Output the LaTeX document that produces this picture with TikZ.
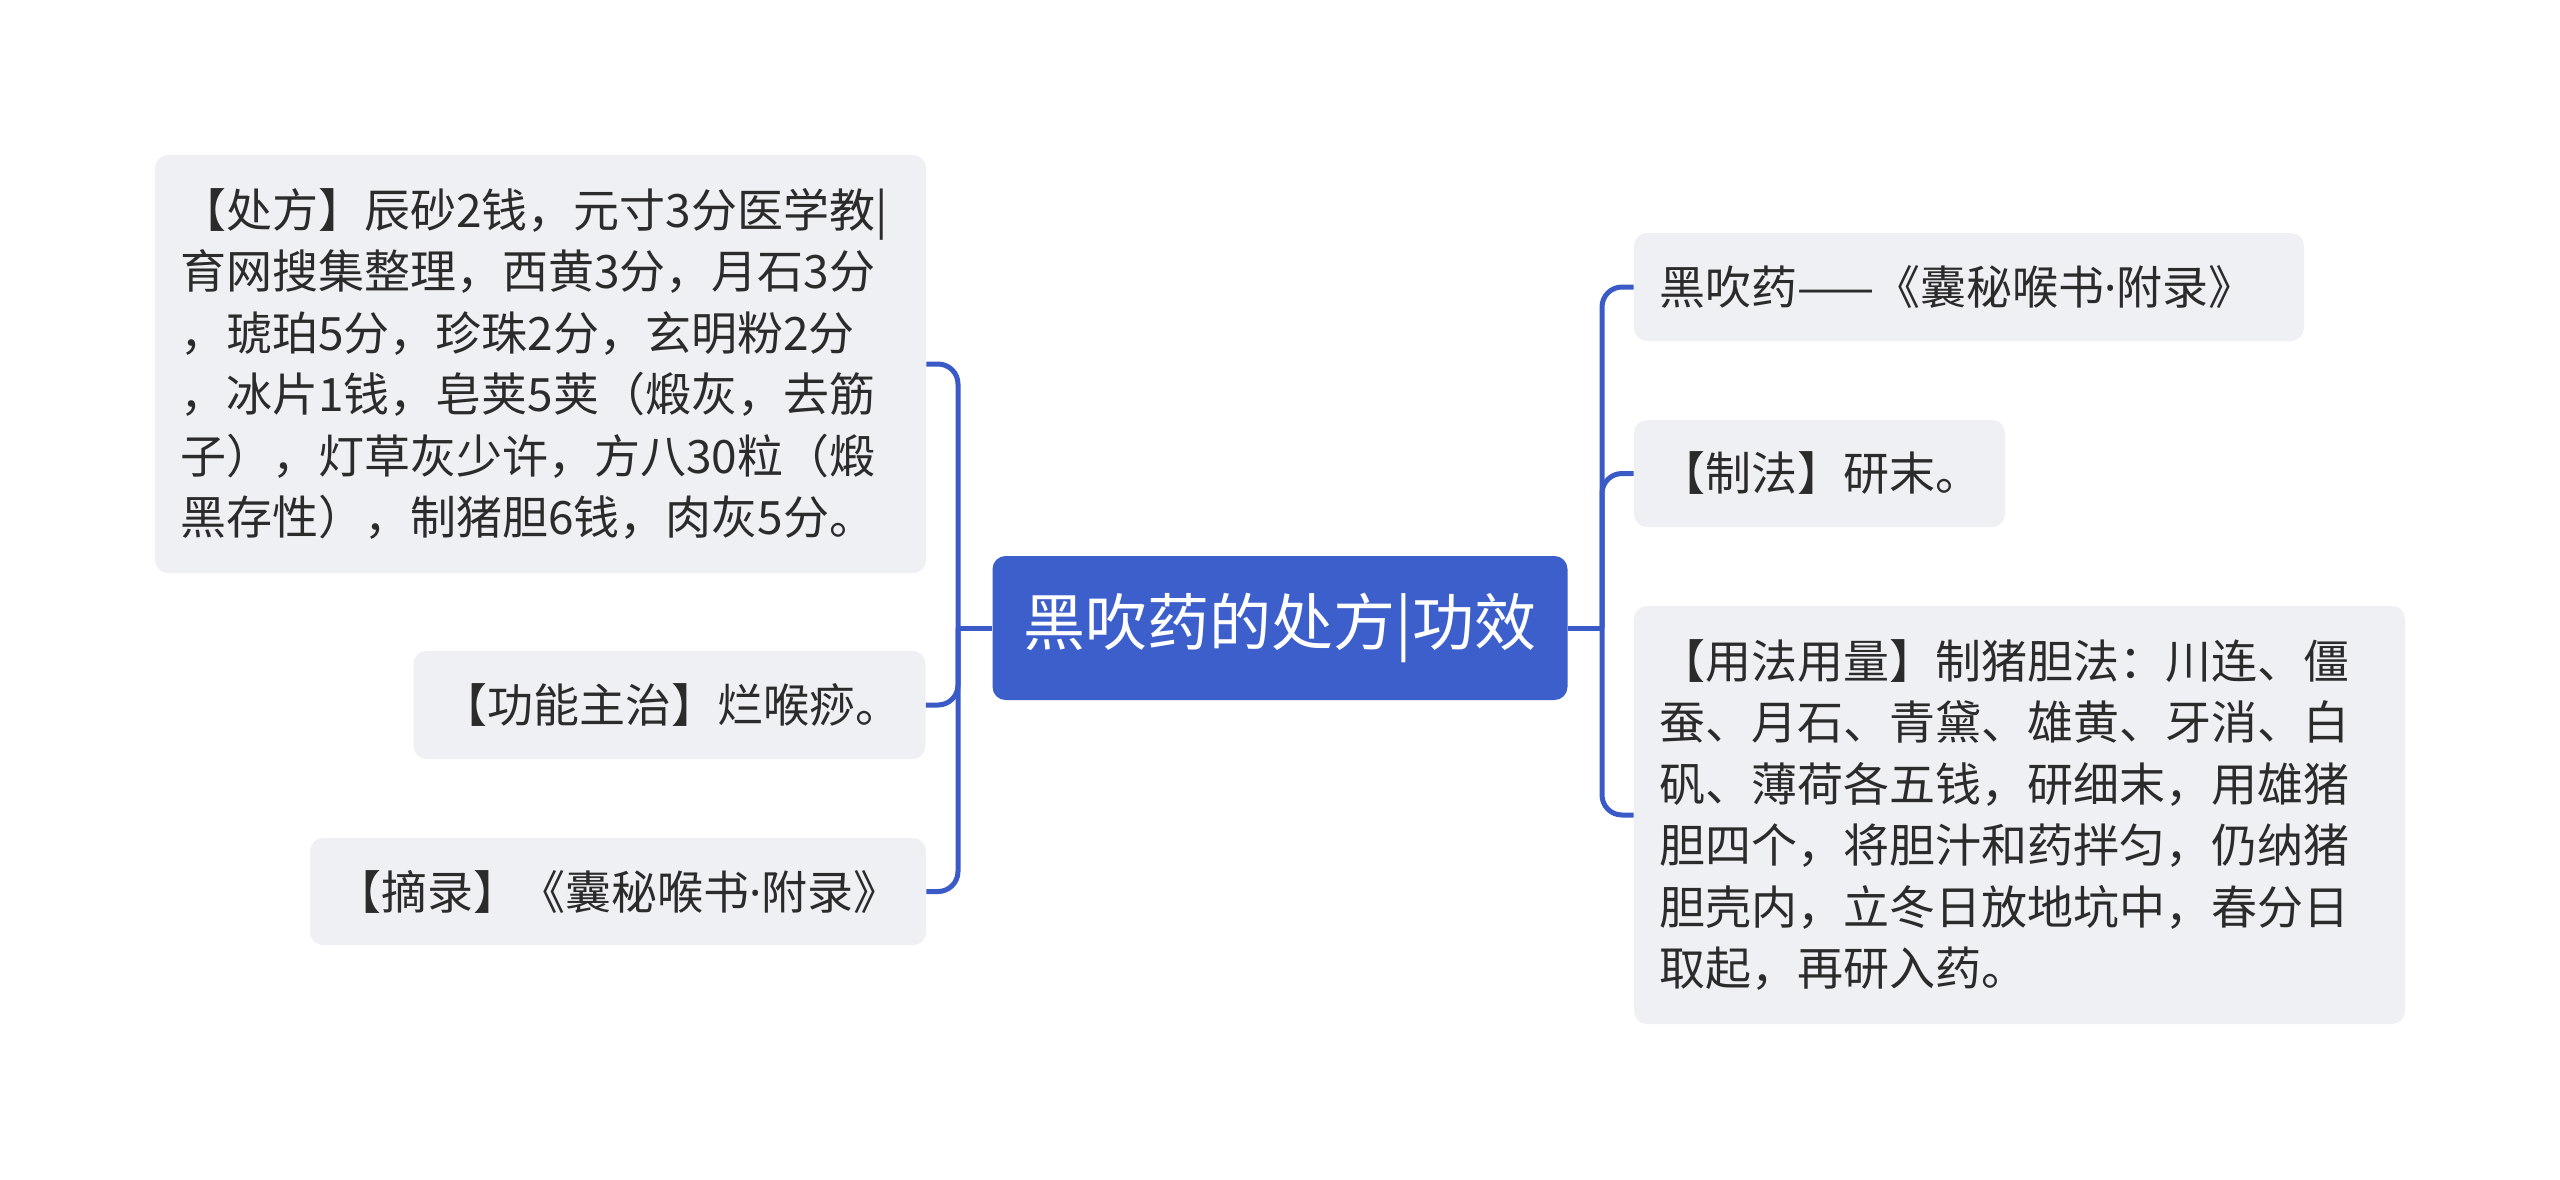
\documentclass[tikz,border=0pt]{standalone}
\usepackage{fontspec}
\newfontfamily\cjk{Noto Sans CJK SC}
\newfontfamily\latin{Noto Sans}
\newcommand{\mdot}{{\latin ·}}
\definecolor{boxfill}{HTML}{EEF0F3}
\definecolor{rootfill}{HTML}{3D5FCB}
\definecolor{conncol}{HTML}{3A5BC7}
\definecolor{txt}{HTML}{2B2B2B}
\tikzset{
  leaf/.style={draw=none, fill=boxfill, rounded corners=6.5pt, text=txt,
    font=\cjk\fontsize{23}{30.75}\selectfont, align=left,
    inner xsep=12.5pt, inner ysep=0pt, anchor=center},
  rootbox/.style={draw=none, fill=rootfill, rounded corners=6.5pt, text=white,
    font=\cjk\fontsize{31}{38}\selectfont, align=center,
    minimum width=287.5pt, minimum height=72pt, inner sep=0pt},
  conn/.style={draw=conncol, line width=2.5pt, rounded corners=10pt},
}
\begin{document}
\begin{tikzpicture}[x=0.5pt, y=-0.5pt]
\useasboundingbox (0,0) rectangle (2560,1179);
\fill[white] (0,0) rectangle (2560,1179);

\node[rootbox] (root) at (1280,628) {黑吹药的处方|功效};

% left side
\node[leaf, text width=360.5pt, minimum height=209pt] (chufang) at (540.5,364)
 {【处方】辰砂2钱，元寸3分医学教|\\
  育网搜集整理，西黄3分，月石3分\\
  ，琥珀5分，珍珠2分，玄明粉2分\\
  ，冰片1钱，皂荚5荚（煅灰，去筋\\
  子），灯草灰少许，方八30粒（煅\\
  黑存性），制猪胆6钱，肉灰5分。};
\node[leaf, text width=228pt, inner xsep=14pt, minimum height=54pt] (gongneng) at (669.5,705)
 {\mbox{【功能主治】烂喉痧。}};
\node[leaf, text width=283pt, inner xsep=12.5pt, minimum height=53.5pt] (zhailu) at (618,891.5)
 {\mbox{【摘录】《囊秘喉书\mdot 附录》}};

% right side
\node[leaf, text width=310pt, minimum height=54pt] (heichui) at (1969,287)
 {\mbox{黑吹药——《囊秘喉书\mdot 附录》}};
\node[leaf, text width=160.5pt, minimum height=53.5pt] (zhifa) at (1819.5,473.5)
 {\mbox{【制法】研末。}};
\node[leaf, text width=360.5pt, minimum height=209pt] (yongfa) at (2019.5,815)
 {【用法用量】制猪胆法：川连、僵\\
  蚕、月石、青黛、雄黄、牙消、白\\
  矾、薄荷各五钱，研细末，用雄猪\\
  胆四个，将胆汁和药拌匀，仍纳猪\\
  胆壳内，立冬日放地坑中，春分日\\
  取起，再研入药。};

\coordinate (lj) at (958,628);
\coordinate (rj) at (1602,628);

\draw[conn] (root.west) -- (lj);
\draw[conn] (lj) |- (chufang.east);
\draw[conn] (lj) |- (gongneng.east);
\draw[conn] (lj) |- (zhailu.east);

\draw[conn] (root.east) -- (rj);
\draw[conn] (rj) |- (heichui.west);
\draw[conn] (rj) |- (zhifa.west);
\draw[conn] (rj) |- (yongfa.west);
\end{tikzpicture}
\end{document}
